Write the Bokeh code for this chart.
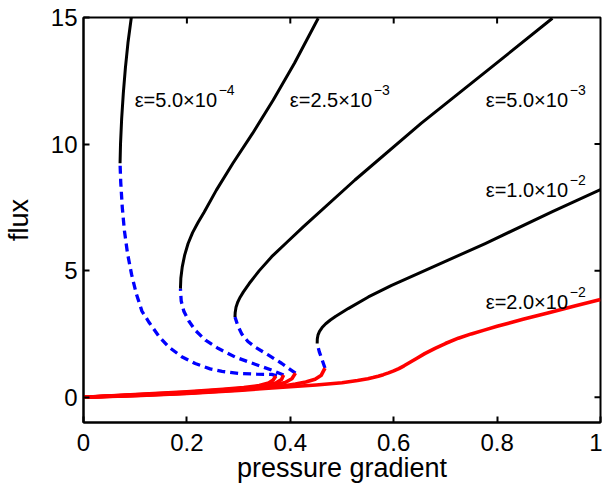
import math
from bokeh.plotting import figure
from bokeh.models import ColumnDataSource, Range1d, FixedTicker
from bokeh.core.properties import value
from bokeh.embed import file_html
from bokeh.resources import INLINE

# ---------------- data ----------------
# eps = 5.0e-4
red1_x = [0.0, 0.1, 0.2, 0.27, 0.31, 0.34, 0.358, 0.367, 0.372]
red1_y = [0.0, 0.10, 0.21, 0.31, 0.38, 0.46, 0.56, 0.68, 0.84]
blue1_x = [0.374, 0.364, 0.335, 0.300, 0.268, 0.245, 0.216, 0.190, 0.165, 0.146, 0.127,
           0.113, 0.102, 0.093, 0.085, 0.079, 0.075, 0.072, 0.0707]
blue1_y = [0.84, 0.90, 0.91, 0.94, 1.02, 1.12, 1.33, 1.60, 1.98, 2.40, 2.95,
           3.40, 4.10, 4.85, 5.70, 6.60, 7.50, 8.50, 9.24]
black1_x = [0.0707, 0.0716, 0.0738, 0.0770, 0.0810, 0.0860, 0.0925]
black1_y = [9.24, 10.0, 11.0, 12.0, 13.0, 14.0, 15.0]

# eps = 2.5e-3
red2_x = [0.0, 0.1, 0.2, 0.27, 0.32, 0.35, 0.372, 0.383, 0.387]
red2_y = [0.0, 0.09, 0.19, 0.29, 0.37, 0.45, 0.56, 0.70, 0.88]
blue2_x = [0.387, 0.364, 0.332, 0.293, 0.261, 0.236, 0.216, 0.204, 0.194, 0.189, 0.1875]
blue2_y = [0.88, 1.07, 1.30, 1.59, 1.92, 2.25, 2.65, 3.00, 3.40, 3.80, 4.29]
black2_x = [0.1875, 0.1883, 0.1910, 0.1955, 0.2023, 0.2110, 0.2215, 0.2330, 0.257, 0.289, 0.327,
            0.367, 0.408, 0.454]
black2_y = [4.29, 4.70, 5.15, 5.60, 6.07, 6.50, 6.90, 7.30, 8.18, 9.24, 10.42,
            11.74, 13.19, 14.97]

# eps = 5.0e-3
red3_x = [0.0, 0.1, 0.2, 0.27, 0.33, 0.365, 0.39, 0.403, 0.41]
red3_y = [0.0, 0.08, 0.17, 0.27, 0.37, 0.46, 0.58, 0.73, 0.95]
blue3_x = [0.410, 0.396, 0.383, 0.358, 0.332, 0.318, 0.306, 0.298, 0.293]
blue3_y = [0.95, 1.15, 1.34, 1.66, 1.98, 2.20, 2.50, 2.85, 3.17]
black3_x = [0.293, 0.2934, 0.2950, 0.2982, 0.3030, 0.309, 0.3205, 0.340, 0.364, 0.395, 0.425,
            0.525, 0.653, 0.782, 0.907]
black3_y = [3.17, 3.35, 3.55, 3.75, 3.95, 4.15, 4.49, 5.00, 5.55, 6.15, 6.73,
            8.58, 10.82, 12.92, 14.97]

# eps = 1.0e-2
red4_x = [0.0, 0.1, 0.2, 0.3, 0.38, 0.41, 0.43, 0.448, 0.46, 0.467]
red4_y = [0.0, 0.07, 0.16, 0.29, 0.42, 0.52, 0.60, 0.71, 0.87, 1.15]
blue4_x = [0.467, 0.462, 0.456, 0.452]
blue4_y = [1.15, 1.45, 1.80, 2.12]
black4_x = [0.452, 0.4522, 0.4535, 0.4565, 0.4615, 0.4685, 0.4775, 0.488, 0.512, 0.551, 0.596,
            0.648, 0.777, 0.907, 1.0]
black4_y = [2.12, 2.30, 2.45, 2.60, 2.75, 2.90, 3.05, 3.20, 3.50, 3.96, 4.42,
            4.89, 6.07, 7.33, 8.20]

# eps = 2.0e-2
red5_x = [0.0, 0.1, 0.2, 0.3, 0.4, 0.45, 0.5, 0.53, 0.55, 0.56, 0.57, 0.58, 0.59, 0.6, 0.61,
          0.62, 0.63, 0.645, 0.66, 0.68, 0.7, 0.725, 0.75, 0.775, 0.8, 0.85, 0.9, 0.95, 1.0]
red5_y = [0.0, 0.06, 0.15, 0.27, 0.41, 0.48, 0.57, 0.66, 0.73, 0.775, 0.83, 0.89, 0.96, 1.04, 1.13,
          1.24, 1.36, 1.54, 1.72, 1.93, 2.12, 2.33, 2.50, 2.65, 2.80, 3.08, 3.34, 3.60, 3.86]

label_main = ["\u03b5=5.0\u00d710", "\u03b5=2.5\u00d710", "\u03b5=5.0\u00d710", "\u03b5=1.0\u00d710", "\u03b5=2.0\u00d710"]
label_exp = ["\u22124", "\u22123", "\u22123", "\u22122", "\u22122"]
label_x = [0.099, 0.399, 0.778, 0.778, 0.778]
label_y = [11.74, 11.74, 11.74, 8.19, 3.77]

x_ticks = [0, 0.2, 0.4, 0.6, 0.8, 1]
x_tick_labels = ["0", "0.2", "0.4", "0.6", "0.8", "1"]
y_ticks = [0, 5, 10, 15]
y_tick_labels = ["0", "5", "10", "15"]
X_MIN, X_MAX = 0, 1
Y_MIN, Y_MAX = -1, 15

# ---------------- figure ----------------
FONT = "Liberation Sans"
p = figure(width=602, height=487, output_backend="svg", toolbar_location=None,
           x_range=Range1d(X_MIN, X_MAX), y_range=Range1d(Y_MIN, Y_MAX),
           min_border_left=81, min_border_right=2, min_border_top=17, min_border_bottom=65)
p.background_fill_color = "white"
p.border_fill_color = "white"
p.outline_line_color = "black"
p.outline_line_width = 2
p.grid.visible = False

reds = [(red1_x, red1_y), (red2_x, red2_y), (red3_x, red3_y), (red4_x, red4_y), (red5_x, red5_y)]
blues = [(blue1_x, blue1_y), (blue2_x, blue2_y), (blue3_x, blue3_y), (blue4_x, blue4_y)]
blacks = [(black1_x, black1_y), (black2_x, black2_y), (black3_x, black3_y), (black4_x, black4_y)]

for bx, by in blues:
    p.line(bx, by, line_color="#0000ff", line_width=3.3, line_dash="8 5")
for kx, ky in blacks:
    p.line(kx, ky, line_color="black", line_width=3, line_join="round")
for rx, ry in reds:
    p.line(rx, ry, line_color="#ff0000", line_width=3.6, line_join="round")

# tick marks on the top and right edges of the box
p.ray(x=[t for t in x_ticks if X_MIN < t < X_MAX], y=Y_MAX, length=6, length_units="screen",
      angle=-math.pi / 2, line_color="black", line_width=2)
p.ray(x=X_MAX, y=[t for t in y_ticks if Y_MIN < t < Y_MAX], length=6, length_units="screen",
      angle=math.pi, line_color="black", line_width=2)

src = ColumnDataSource(dict(x=label_x, y=label_y, t=label_main, e=label_exp))
p.text(x="x", y="y", text="t", source=src, text_font=value(FONT), text_font_size="20px",
       text_align="left", text_baseline="alphabetic", text_color="black")
p.text(x="x", y="y", text="e", source=src, text_font=value(FONT), text_font_size="14px",
       text_align="left", text_baseline="alphabetic", text_color="black",
       x_offset=84, y_offset=-10)

p.xaxis.ticker = FixedTicker(ticks=x_ticks)
p.xaxis.major_label_overrides = dict(zip(x_ticks, x_tick_labels))
p.yaxis.ticker = FixedTicker(ticks=y_ticks)
p.yaxis.major_label_overrides = dict(zip(y_ticks, y_tick_labels))
for ax in (p.xaxis[0], p.yaxis[0]):
    ax.axis_line_width = 2
    ax.axis_line_color = "black"
    ax.major_tick_line_width = 2
    ax.major_tick_in = 6
    ax.major_tick_out = 0
    ax.minor_tick_line_color = None
    ax.major_label_text_font = FONT
    ax.major_label_text_color = "black"
    ax.major_label_text_font_size = "24px"
    ax.axis_label_text_font = FONT
    ax.axis_label_text_font_size = "27px"
    ax.axis_label_text_font_style = "normal"
    ax.axis_label_text_color = "black"
p.xaxis.major_label_standoff = 11
p.yaxis.major_label_standoff = 6
p.xaxis.axis_label = "pressure gradient"
p.yaxis.axis_label = "flux"
p.xaxis.axis_label_standoff = -1
p.yaxis.axis_label_standoff = 14

open("out.html", "w").write(file_html(p, INLINE))
